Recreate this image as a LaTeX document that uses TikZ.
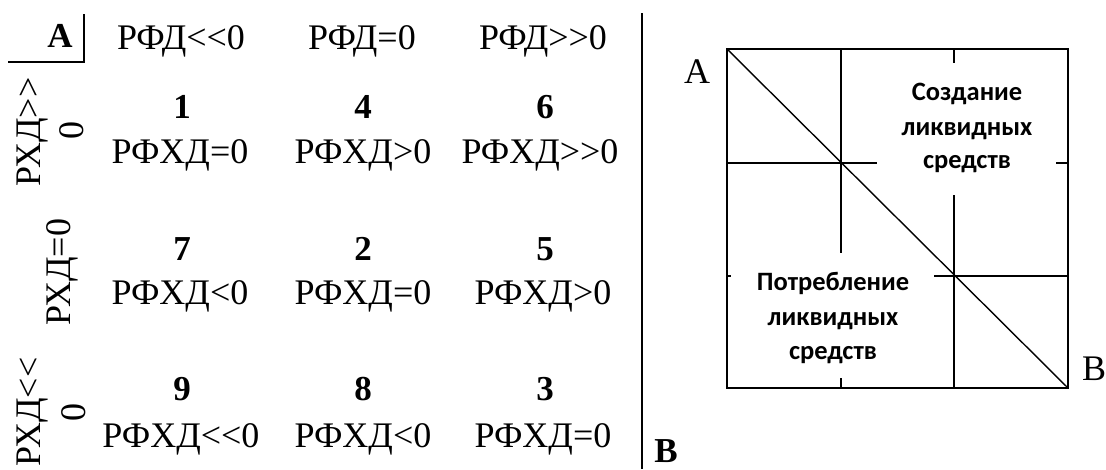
\documentclass[tikz,border=0pt]{standalone}
\usepackage{fontspec}
\setmainfont{Liberation Serif}[Ligatures=TeXOff]
\newfontfamily\calfont{Carlito}
\begin{document}
\begin{tikzpicture}[x=1pt,y=-1pt,
  tt/.style={inner sep=0pt, anchor=base, font=\fontsize{36}{40}\selectfont},
  num/.style={inner sep=0pt, anchor=base, font=\bfseries\fontsize{35}{40}\selectfont},
  side/.style={tt, rotate=90},
  zone/.style={inner sep=0pt, anchor=base, font=\calfont\bfseries\fontsize{26.5}{30}\selectfont},
  rule/.style={line width=1.8pt},
  box/.style={line width=2.2pt},
  thin/.style={line width=1.4pt}]
\useasboundingbox (0,0) rectangle (1106,469);
% ---------- left panel ----------
\node[num] (A) at (60,47) {A};
\coordinate (c1) at (84,14);
\coordinate (c2) at (84,62);
\coordinate (c3) at (8,62);
\draw[rule] (c1) -- (c2) -- (c3);
\node[tt] (h1) at (181,49) {РФД<<0};
\node[tt] (h2) at (362,49) {РФД=0};
\node[tt] (h3) at (543,49) {РФД>>0};
\node[side] (s1a) at (40,132) {РХД>>};
\node[side] (s1b) at (83,130) {0};
\node[side] (s2) at (70,272) {РХД=0};
\node[side] (s3a) at (40,412) {РХД<<};
\node[side] (s3b) at (85,412) {0};
% row 1
\node[num] (n1) at (182,118) {1};
\node[num] (n4) at (363,118) {4};
\node[num] (n6) at (545,118) {6};
\node[tt] (r11) at (180,163) {РФХД=0};
\node[tt] (r12) at (363,163) {РФХД>0};
\node[tt] (r13) at (540,163) {РФХД>>0};
% row 2
\node[num] (n7) at (182,260) {7};
\node[num] (n2) at (363,260) {2};
\node[num] (n5) at (545,260) {5};
\node[tt] (r21) at (180,304) {РФХД<0};
\node[tt] (r22) at (363,304) {РФХД=0};
\node[tt] (r23) at (543,304) {РФХД>0};
% row 3
\node[num] (n9) at (182,400) {9};
\node[num] (n8) at (363,400) {8};
\node[num] (n3) at (545,400) {3};
\node[tt] (r31) at (181,447) {РФХД<<0};
\node[tt] (r32) at (363,447) {РФХД<0};
\node[tt] (r33) at (543,447) {РФХД=0};
% divider
\coordinate (d1) at (642,13);
\coordinate (d2) at (642,469);
\draw[rule] (d1) -- (d2);
\node[num] (B) at (666,462) {B};
% ---------- right panel ----------
\coordinate (TL) at (727,49);
\coordinate (BR) at (1068,388);
\draw[box] (TL) rectangle (BR);
\draw[thin] (TL) -- (BR);
% vertical grid lines
\coordinate (v1t) at (841,49);  \coordinate (v1m) at (841,253);
\coordinate (v1b) at (841,378); \coordinate (v1e) at (841,388);
\draw[rule] (v1t) -- (v1m);
\draw[rule] (v1b) -- (v1e);
\coordinate (v2t) at (954,49);  \coordinate (v2s) at (954,63);
\coordinate (v2m) at (954,195); \coordinate (v2e) at (954,388);
\draw[rule] (v2t) -- (v2s);
\draw[rule] (v2m) -- (v2e);
% horizontal grid lines
\coordinate (h1l) at (727,163); \coordinate (h1m) at (877,163);
\coordinate (h1r) at (1056,163); \coordinate (h1e) at (1068,163);
\draw[rule] (h1l) -- (h1m);
\draw[rule] (h1r) -- (h1e);
\coordinate (h2l) at (727,276); \coordinate (h2s) at (731,276);
\coordinate (h2m) at (934,276); \coordinate (h2e) at (1068,276);
\draw[rule] (h2l) -- (h2s);
\draw[rule] (h2m) -- (h2e);
\node[tt] (ra) at (697,83) {A};
\node[tt] (rb) at (1094,380) {B};
\node[zone] (z1) at (967,100) {Создание};
\node[zone] (z2) at (967,135) {ликвидных};
\node[zone] (z3) at (967,168) {средств};
\node[zone] (p1) at (833,290) {Потребление};
\node[zone] (p2) at (833,325) {ликвидных};
\node[zone] (p3) at (833,359) {средств};
\end{tikzpicture}
\end{document}
